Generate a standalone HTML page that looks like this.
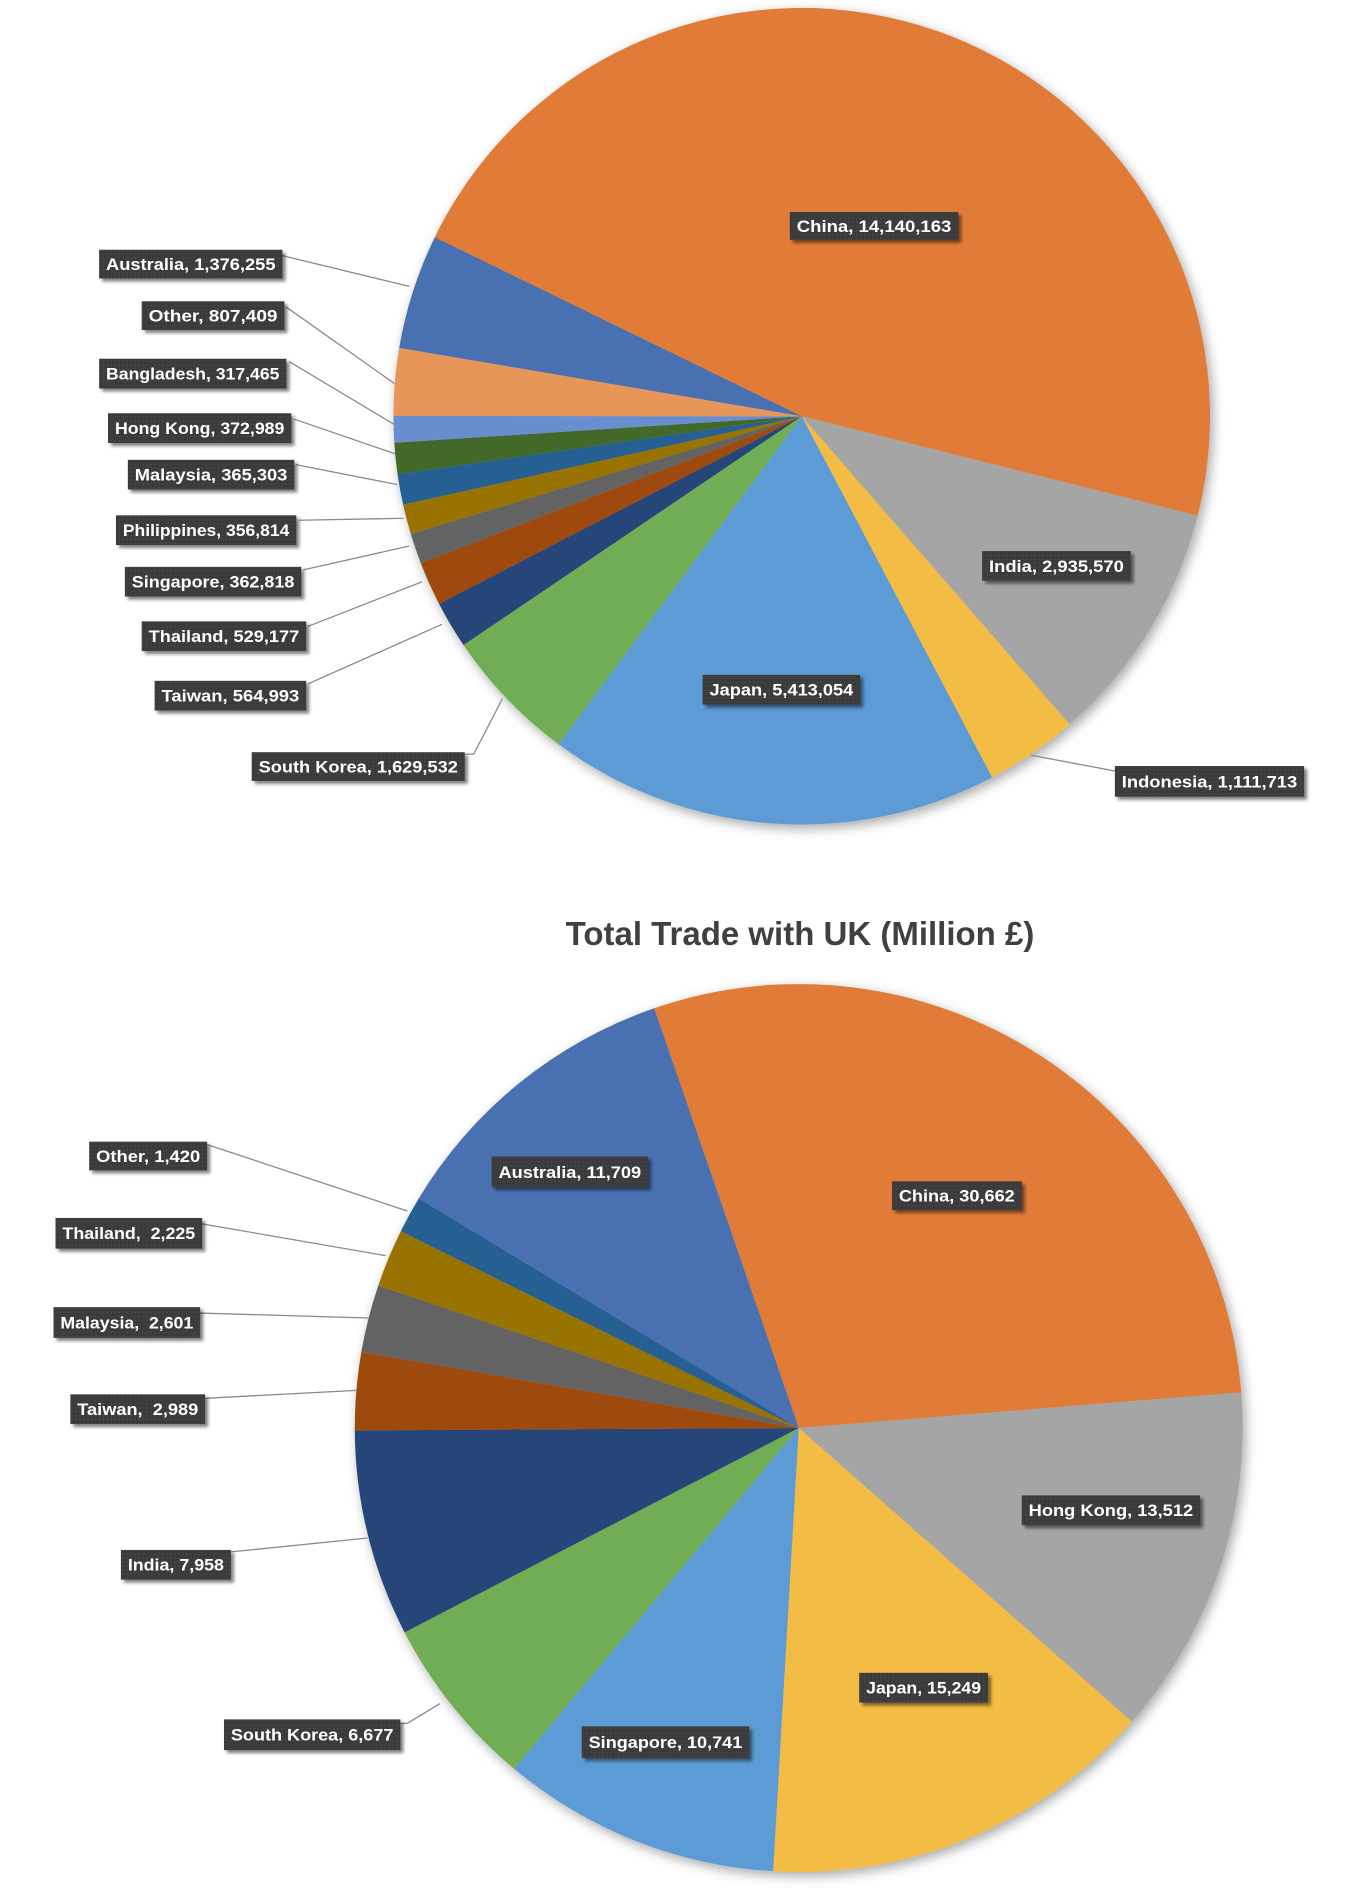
<!DOCTYPE html>
<html><head><meta charset="utf-8"><style>
html,body{margin:0;padding:0;background:#fff;}
svg{display:block;}
.lb{font-family:"Liberation Sans Narrow","Liberation Sans",sans-serif;font-weight:bold;font-size:17px;fill:#fff;}
</style></head><body>
<svg id="s" width="1350" height="1890" viewBox="0 0 1350 1890" xmlns="http://www.w3.org/2000/svg">
<defs>
<filter id="sh" x="-10%" y="-10%" width="120%" height="120%"><feGaussianBlur in="SourceAlpha" stdDeviation="6"/><feOffset dx="3" dy="4"/><feComponentTransfer><feFuncA type="linear" slope="0.35"/></feComponentTransfer><feMerge><feMergeNode/><feMergeNode in="SourceGraphic"/></feMerge></filter>
<filter id="bs" x="-10%" y="-20%" width="130%" height="160%"><feGaussianBlur in="SourceAlpha" stdDeviation="1.5"/><feOffset dx="3" dy="3"/><feComponentTransfer><feFuncA type="linear" slope="0.5"/></feComponentTransfer><feMerge><feMergeNode/><feMergeNode in="SourceGraphic"/></feMerge></filter>
<pattern id="dots" width="4" height="4" patternUnits="userSpaceOnUse"><rect width="4" height="4" fill="#3b3b3b"/><rect width="1" height="1" fill="#555"/></pattern>
</defs>
<g transform="scale(0.991)">
<g id="g1" filter="url(#sh)"></g>
<g id="g2" filter="url(#sh)"></g>
<g id="lines" stroke="#8a8a8a" stroke-width="1.3" fill="none"></g>
<g id="labels"></g>
</g>
<text x="800" y="945" text-anchor="middle" font-family="Liberation Sans, sans-serif" font-weight="bold" font-size="33" fill="#404040">Total Trade with UK (Million £)</text>
</svg>
<script>
var NS="http://www.w3.org/2000/svg";
function pie(g,cx,cy,r,start,data){
  var tot=data.reduce(function(a,d){return a+d[0]},0),a=start;
  data.forEach(function(d){
    var b=a+d[0]/tot*360;
    var p=function(t){var rad=(t-90)*Math.PI/180;return [cx+r*Math.cos(rad),cy+r*Math.sin(rad)]};
    var s=p(a),e=p(b),large=(b-a)>180?1:0;
    var el=document.createElementNS(NS,"path");
    el.setAttribute("d","M"+cx+","+cy+"L"+s[0]+","+s[1]+"A"+r+","+r+" 0 "+large+" 1 "+e[0]+","+e[1]+"Z");
    el.setAttribute("fill",d[1]);
    document.getElementById(g).appendChild(el);
    a=b;
  });
}
pie("g1",809,420,412,296,[
[14140163,"#E07B39"],[2935570,"#A5A5A5"],[1111713,"#F2BC45"],[5413054,"#5B9BD5"],[1629532,"#70AD55"],
[564993,"#264478"],[529177,"#9E480E"],[362818,"#636363"],[356814,"#997300"],[365303,"#255E91"],
[372989,"#43682B"],[317465,"#698ED0"],[807409,"#E8955A"],[1376255,"#4870B0"]]);
pie("g2",806,1441,448,341,[
[30662,"#E07B39"],[13512,"#A5A5A5"],[15249,"#F2BC45"],[10741,"#5B9BD5"],[6677,"#70AD55"],
[7958,"#264478"],[2989,"#9E480E"],[2601,"#636363"],[2225,"#997300"],[1420,"#255E91"],[11709,"#4870B0"]]);
var lines=[
"285,258 413,289","289,310 398,387","292,365 399,429","297,423 399,458","299,469 401,489","302,525 407,523",
"306,575 413,551","311,632 426,587","311,690 446,630","469,761 478,761 507,705","1125,778 1040,762",
"209,1155 411,1222","204,1235 389,1267","202,1325 372,1330","207,1411 360,1403","233,1566 371,1552","404,1739 411,1739 444,1719"];
lines.forEach(function(l){var e=document.createElementNS(NS,"polyline");e.setAttribute("points",l);document.getElementById("lines").appendChild(e);});
var labs=[
["China, 14,140,163",797,214,967,242],["Australia, 1,376,255",100,252,285,281],["Other, 807,409",143,304,287,333],
["Bangladesh, 317,465",100,362,289,392],["Hong Kong, 372,989",109,417,294,447],["Malaysia, 365,303",129,464,297,494],
["Philippines, 356,814",117,520,299,550],["Singapore, 362,818",126,572,304,602],["Thailand, 529,177",143,627,309,657],
["Taiwan, 564,993",156,687,309,717],["South Korea, 1,629,532",254,759,469,788],["Japan, 5,413,054",709,681,868,711],
["India, 2,935,570",991,556,1141,586],["Indonesia, 1,111,713",1125,773,1316,804],
["Australia, 11,709",496,1167,654,1198],["China, 30,662",900,1192,1031,1221],["Hong Kong, 13,512",1031,1509,1211,1539],
["Japan, 15,249",867,1688,997,1718],["Singapore, 10,741",587,1742,756,1774],["South Korea, 6,677",226,1735,404,1766],
["India, 7,958",122,1564,233,1594],["Taiwan,  2,989",71,1407,207,1437],["Malaysia,  2,601",54,1319,202,1350],
["Thailand,  2,225",56,1229,204,1260],["Other, 1,420",90,1152,209,1181]];
var G=document.getElementById("labels");
labs.forEach(function(l){
  var r=document.createElementNS(NS,"rect");
  r.setAttribute("x",l[1]);r.setAttribute("y",l[2]);r.setAttribute("width",l[3]-l[1]);r.setAttribute("height",l[4]-l[2]);
  r.setAttribute("fill","url(#dots)");r.setAttribute("filter","url(#bs)");G.appendChild(r);
  var t=document.createElementNS(NS,"text");
  t.setAttribute("x",(l[1]+l[3])/2);t.setAttribute("y",(l[2]+l[4])/2+6);t.setAttribute("text-anchor","middle");
  t.setAttribute("class","lb");t.setAttribute("textLength",(l[3]-l[1])-14);t.setAttribute("lengthAdjust","spacingAndGlyphs");
  t.textContent=l[0].replace(/ /g,"\u00a0");G.appendChild(t);
});
</script>
</body></html>
